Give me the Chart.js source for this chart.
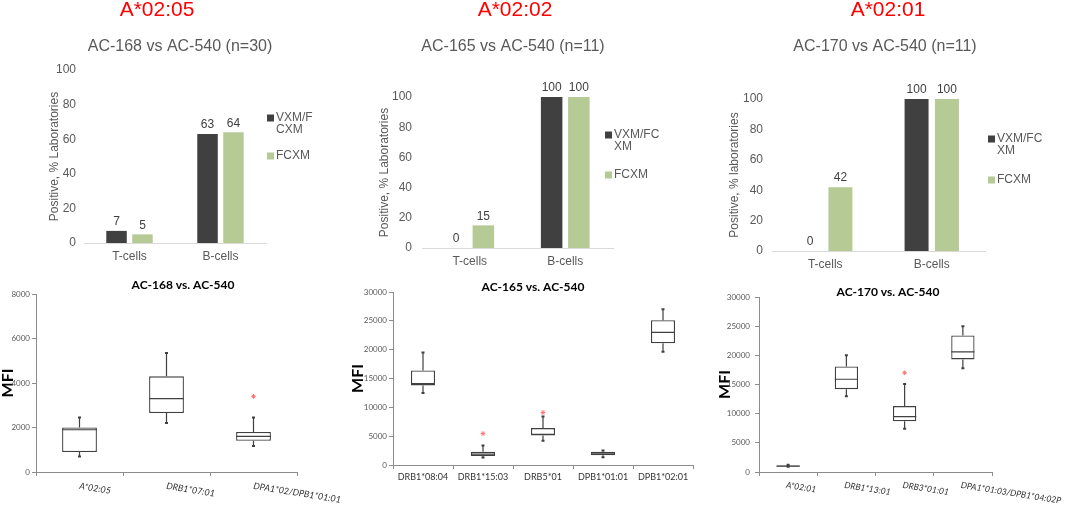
<!DOCTYPE html>
<html>
<head>
<meta charset="utf-8">
<script src="https://cdn.jsdelivr.net/npm/chart.js@4.4.0/dist/chart.umd.min.js"></script>
<style>
  body { margin: 0; background: #fff; width: 1065px; height: 508px; overflow: hidden; position: relative; }
  canvas { position: absolute; }
</style>
</head>
<body>
<canvas id="barA" width="350" height="268" style="left:0;top:0"></canvas>
<canvas id="barB" width="360" height="273" style="left:350px;top:0"></canvas>
<canvas id="barC" width="365" height="276" style="left:700px;top:0"></canvas>
<canvas id="boxA" width="350" height="233" style="left:0;top:275px"></canvas>
<canvas id="boxB" width="360" height="233" style="left:350px;top:275px"></canvas>
<canvas id="boxC" width="365" height="233" style="left:700px;top:275px"></canvas>
<script>
// top row: % of labs with positive crossmatch
const cellTypes = ['T-cells', 'B-cells'];
const vxmA = [7, 63];
const fcxmA = [5, 64];
const vxmB = [0, 100];
const fcxmB = [15, 100];
const vxmC = [0, 100];
const fcxmC = [42, 100];
const headers = ['A*02:05', 'A*02:02', 'A*02:01'];
const subtitles = ['AC-168 vs AC-540 (n=30)', 'AC-165 vs AC-540 (n=11)', 'AC-170 vs AC-540 (n=11)'];
const yTitles = ['Positive, % Laboratories', 'Positive, % Laboratories', 'Positive, % laboratories'];
const legendLinesA = [['VXM/F', 'CXM'], ['FCXM']];
const legendLinesBC = [['VXM/FC', 'XM'], ['FCXM']];

// bottom row: MFI box plots
const boxTitles = ['AC-168 vs. AC-540', 'AC-165 vs. AC-540', 'AC-170 vs. AC-540'];
const allelesA = ['A*02:05', 'DRB1*07:01', 'DPA1*02/DPB1*01:01'];
const minA = [700, 2200, 1170];
const q1A = [900, 2650, 1400];
const medA = [1900, 3300, 1600];
const q3A = [2000, 4300, 1800];
const maxA = [2450, 5350, 2450];
const outA = [null, null, 3400];

const allelesB = ['DRB1*08:04', 'DRB1*15:03', 'DRB5*01', 'DPB1*01:01', 'DPB1*02:01'];
const minB = [12500, 1300, 4200, 1350, 19650];
const q1B = [13800, 1550, 5100, 1700, 21100];
const medB = [14100, 1900, 5300, 1950, 23000];
const q3B = [16400, 2300, 6400, 2300, 25100];
const maxB = [19500, 3400, 8400, 2500, 27000];
const outB = [null, 5450, 9100, null, null];

const allelesC = ['A*02:01', 'DRB1*13:01', 'DRB3*01:01', 'DPA1*01:03/DPB1*04:02P'];
const minC = [900, 13000, 7400, 17800];
const q1C = [950, 14200, 8700, 19300];
const medC = [1000, 15900, 9500, 20600];
const q3C = [1100, 18100, 11300, 23400];
const maxC = [1250, 20000, 15100, 25000];
const outC = [null, null, 17000, null];

const DARK = '#404040';
const GREEN = '#b6ca96';
const GRAY = '#595959';
const AXIS = '#8c8c8c';
const SANS = '"Liberation Sans", Arial, sans-serif';
const CAL = 'Lato, "Open Sans", sans-serif';

Chart.defaults.font.family = SANS;

const panelText = {
  id: 'panelText',
  afterDraw(chart, args, opts) {
    const ctx = chart.ctx;
    (opts.items || []).forEach(it => {
      ctx.save();
      ctx.font = it.font;
      ctx.fillStyle = it.color;
      ctx.textAlign = 'center';
      ctx.textBaseline = 'middle';
      ctx.fillText(it.text, it.x, it.y);
      ctx.restore();
    });
  }
};

const sideLegend = {
  id: 'sideLegend',
  afterDraw(chart, args, opts) {
    if (!opts.lines) return;
    const ctx = chart.ctx;
    ctx.save();
    ctx.font = '12px ' + SANS;
    ctx.textBaseline = 'middle';
    chart.data.datasets.forEach((ds, i) => {
      const y0 = opts.ys[i];
      ctx.fillStyle = ds.backgroundColor;
      ctx.fillRect(opts.x, y0 - 3.5, 7, 7);
      ctx.fillStyle = GRAY;
      opts.lines[i].forEach((line, k) => ctx.fillText(line, opts.x + 9, y0 + k * opts.gap));
    });
    ctx.restore();
  }
};

const valueLabels = {
  id: 'valueLabels',
  afterDatasetsDraw(chart) {
    const ctx = chart.ctx;
    ctx.save();
    ctx.font = '12px ' + SANS;
    ctx.fillStyle = DARK;
    ctx.textAlign = 'center';
    ctx.textBaseline = 'bottom';
    chart.data.datasets.forEach((ds, i) => {
      chart.getDatasetMeta(i).data.forEach((bar, j) => {
        ctx.fillText(String(ds.data[j]), bar.x, bar.y - 3);
      });
    });
    ctx.restore();
  }
};

const boxWhiskers = {
  id: 'boxWhiskers',
  afterDatasetsDraw(chart) {
    const ctx = chart.ctx;
    const ds = chart.data.datasets[0];
    const y = chart.scales.y;
    ctx.save();
    ctx.strokeStyle = DARK;
    chart.getDatasetMeta(0).data.forEach((bar, i) => {
      const x = bar.x;
      const half = bar.width / 2;
      const yMin = y.getPixelForValue(ds.mins[i]);
      const yQ1 = y.getPixelForValue(ds.data[i][0]);
      const yQ3 = y.getPixelForValue(ds.data[i][1]);
      const yMax = y.getPixelForValue(ds.maxs[i]);
      const yMed = y.getPixelForValue(ds.medians[i]);
      ctx.lineWidth = 1.2;
      ctx.beginPath();
      ctx.moveTo(x, yQ3); ctx.lineTo(x, yMax);
      ctx.moveTo(x, yQ1); ctx.lineTo(x, yMin);
      ctx.moveTo(x - half, yMed); ctx.lineTo(x + half, yMed);
      ctx.stroke();
      ctx.lineWidth = 2;
      ctx.beginPath();
      ctx.moveTo(x - 1.5, yMax); ctx.lineTo(x + 1.5, yMax);
      ctx.moveTo(x - 1.5, yMin); ctx.lineTo(x + 1.5, yMin);
      ctx.stroke();
    });
    ctx.restore();
  }
};

const catLabels = {
  id: 'catLabels',
  afterDraw(chart, args, opts) {
    const ctx = chart.ctx;
    const xs = chart.scales.x;
    ctx.save();
    ctx.font = opts.font;
    ctx.fillStyle = '#333';
    ctx.textAlign = opts.align;
    ctx.textBaseline = 'middle';
    chart.data.labels.forEach((lab, i) => {
      ctx.save();
      ctx.translate(xs.getPixelForValue(i) + opts.dx, chart.chartArea.bottom + opts.dy);
      ctx.rotate(opts.angle * Math.PI / 180);
      ctx.fillText(lab, 0, 0);
      ctx.restore();
    });
    ctx.restore();
  }
};

function barChart(id, idx, vxm, fcxm, cfg) {
  return new Chart(document.getElementById(id), {
    type: 'bar',
    data: {
      labels: cellTypes,
      datasets: [
        { label: 'VXM/FCXM', data: vxm, backgroundColor: DARK },
        { label: 'FCXM', data: fcxm, backgroundColor: GREEN }
      ]
    },
    options: {
      responsive: false,
      animation: false,
      layout: { padding: cfg.pad },
      datasets: { bar: { categoryPercentage: 0.57, barPercentage: 0.79 } },
      scales: {
        x: {
          grid: { display: false, drawTicks: false },
          border: { color: '#d9d9d9' },
          ticks: { color: GRAY, font: { size: 12 }, padding: 6 },
          afterFit: s => { s.height = 25; }
        },
        y: {
          min: 0,
          max: 100,
          ticks: { stepSize: 20, color: GRAY, font: { size: 12 }, padding: cfg.tickPad },
          grid: { display: false, drawTicks: false },
          border: { display: false },
          title: { display: true, text: yTitles[idx], color: GRAY, font: { size: 12 }, padding: { top: 2, bottom: 0 } },
          afterFit: s => { s.width = cfg.yWidth; }
        }
      },
      plugins: {
        legend: { display: false },
        tooltip: { enabled: false },
        panelText: {
          items: [
            { text: headers[idx], x: cfg.headX, y: 10, font: '21px ' + SANS, color: '#ff0000' },
            { text: subtitles[idx], x: cfg.subX, y: 47, font: '16px ' + SANS, color: GRAY }
          ]
        },
        sideLegend: { x: cfg.legX, ys: cfg.legYs, gap: 12, lines: cfg.legLines }
      }
    },
    plugins: [panelText, sideLegend, valueLabels]
  });
}

function boxChart(id, idx, labels, mins, q1s, meds, q3s, maxs, outs, cfg) {
  return new Chart(document.getElementById(id), {
    type: 'bar',
    data: {
      labels: labels,
      datasets: [
        {
          type: 'bar',
          data: labels.map((_, i) => [q1s[i], q3s[i]]),
          mins: mins,
          medians: meds,
          maxs: maxs,
          backgroundColor: '#ffffff',
          borderColor: DARK,
          borderWidth: 1.3,
          borderSkipped: false,
          barPercentage: 0.4,
          categoryPercentage: 1
        },
        {
          type: 'line',
          data: outs,
          showLine: false,
          pointStyle: 'star',
          pointRadius: 2.3,
          pointBorderWidth: 1,
          borderColor: '#ff7070',
          backgroundColor: '#ff7070'
        }
      ]
    },
    options: {
      responsive: false,
      animation: false,
      layout: { padding: cfg.pad },
      scales: {
        x: {
          offset: true,
          grid: { offset: true, drawOnChartArea: false, drawTicks: true, tickLength: 4, color: AXIS },
          border: { color: AXIS },
          ticks: { display: false },
          afterFit: s => { s.height = 15; }
        },
        y: {
          min: 0,
          max: cfg.max,
          ticks: { stepSize: cfg.step, color: GRAY, font: { family: CAL, size: 8 }, padding: cfg.tickPad, callback: v => String(v) },
          grid: { drawOnChartArea: false, drawTicks: true, tickLength: 4, color: AXIS },
          border: { color: AXIS },
          title: { display: true, text: 'MFI', color: '#000', font: { family: CAL, size: 16, weight: 'bold', lineHeight: 1 }, padding: { top: 0, bottom: 0 } },
          afterFit: s => { s.width = cfg.yWidth; }
        }
      },
      plugins: {
        legend: { display: false },
        tooltip: { enabled: false },
        panelText: {
          items: [
            { text: boxTitles[idx], x: cfg.titleX, y: cfg.titleY, font: 'bold 12px ' + CAL, color: '#000' }
          ]
        },
        catLabels: cfg.cat
      }
    },
    plugins: [boxWhiskers, panelText, catLabels]
  });
}

barChart('barA', 0, vxmA, fcxmA, {
  pad: { top: 70, left: 45, right: 84, bottom: 0 }, yWidth: 39, tickPad: 8,
  headX: 157, subX: 180, legX: 267, legYs: [118, 156], legLines: legendLinesA
});
barChart('barB', 1, vxmB, fcxmB, {
  pad: { top: 97, left: 25, right: 97, bottom: 0 }, yWidth: 47, tickPad: 10,
  headX: 165, subX: 163, legX: 255, legYs: [135, 175], legLines: legendLinesBC
});
barChart('barC', 2, vxmC, fcxmC, {
  pad: { top: 99, left: 25, right: 80, bottom: 0 }, yWidth: 47, tickPad: 9,
  headX: 188, subX: 185, legX: 288, legYs: [139, 180], legLines: legendLinesBC
});

boxChart('boxA', 0, allelesA, minA, q1A, medA, q3A, maxA, outA, {
  pad: { top: 19, left: 0, right: 53, bottom: 21 }, yWidth: 36, tickPad: 2, max: 8000, step: 2000,
  titleX: 183, titleY: 10,
  cat: { font: 'italic 9px ' + CAL, align: 'left', angle: 9, dx: 0, dy: 14 }
});
boxChart('boxB', 1, allelesB, minB, q1B, medB, q3B, maxB, outB, {
  pad: { top: 17, left: 0, right: 17, bottom: 28 }, yWidth: 43, tickPad: 2, max: 30000, step: 5000,
  titleX: 183, titleY: 12,
  cat: { font: '9px ' + CAL, align: 'center', angle: 0, dx: 0, dy: 12 }
});
boxChart('boxC', 2, allelesC, minC, q1C, medC, q3C, maxC, outC, {
  pad: { top: 22, left: 17, right: 73, bottom: 21 }, yWidth: 42, tickPad: 5, max: 30000, step: 5000,
  titleX: 188, titleY: 17,
  cat: { font: 'italic 8.6px ' + CAL, align: 'left', angle: 9, dx: -2, dy: 13 }
});
</script>
</body>
</html>
